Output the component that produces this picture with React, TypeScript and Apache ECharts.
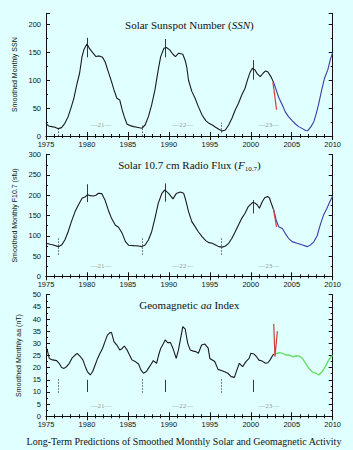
import React, { useEffect, useRef } from 'react';
import * as echarts from 'echarts';

// ---------- data ----------
const ssnObserved: [number, number][] = [
  [1975.0, 22.7], [1975.3, 18], [1975.7, 16.8], [1976.1, 15.6], [1976.5, 13.2], [1976.9, 15],
  [1977.3, 22.7], [1977.7, 34.7], [1978.1, 52.7], [1978.4, 67.6], [1978.75, 91.6], [1979.1, 112.5],
  [1979.4, 142.4], [1979.65, 155.6], [1980.0, 165], [1980.3, 157], [1980.7, 149.6], [1981.1, 142.4],
  [1981.5, 143.6], [1981.9, 141], [1982.2, 133.5], [1982.6, 115.5], [1983.0, 97.5], [1983.3, 82.6],
  [1983.65, 67.6], [1984.0, 64.6], [1984.3, 46.7], [1984.55, 34.7], [1984.9, 21], [1985.3, 18.6],
  [1985.7, 16.8], [1986.1, 15.6], [1986.7, 13.8], [1987.1, 19.7], [1987.5, 34.7], [1987.9, 55.7],
  [1988.3, 82.6], [1988.7, 118.5], [1989.0, 142.4], [1989.4, 157.4], [1989.7, 158.6], [1990.1, 154.4],
  [1990.5, 146.6], [1990.8, 142.4], [1991.2, 148.4], [1991.7, 146.6], [1992.0, 135], [1992.2, 122],
  [1992.4, 100], [1992.8, 80], [1993.2, 67.6], [1993.6, 52.7], [1994.05, 37.7], [1994.5, 27.5],
  [1994.9, 22.7], [1995.3, 19.7], [1995.7, 15.6], [1996.1, 12], [1996.5, 9], [1996.9, 10.8],
  [1997.3, 19.7], [1997.7, 31.7], [1998.1, 46.7], [1998.5, 58.6], [1998.9, 73.6], [1999.3, 85.6],
  [1999.6, 100.5], [1999.9, 113.7], [2000.2, 121.5], [2000.5, 118.5], [2000.8, 111.3], [2001.15, 106.5],
  [2001.5, 112.5], [2001.8, 116.7], [2002.1, 114.9], [2002.45, 106.5], [2002.8, 95.7],
];
const ssnPredicted: [number, number][] = [
  [2002.8, 95.7], [2003.1, 82.6], [2003.4, 69.4], [2003.85, 55.7], [2004.2, 43.7], [2004.6, 34.7],
  [2005.05, 27.5], [2005.45, 21.5], [2005.85, 16.8], [2006.3, 13.2], [2006.7, 10], [2006.95, 9.5],
  [2007.35, 16.8], [2007.7, 25.7], [2008.0, 40.7], [2008.3, 58.6], [2008.7, 85.6], [2009.0, 103.5],
  [2009.4, 118.5], [2009.7, 136.4], [2010.0, 150],
];
const ssnEarlyPrediction: [number, number][] = [[2002.7, 97], [2003.15, 47]];

const f107Observed: [number, number][] = [
  [1975.0, 81.4], [1975.5, 79], [1975.9, 77.3], [1976.5, 73.2], [1976.9, 77], [1977.3, 89.6],
  [1977.7, 110], [1978.1, 134.9], [1978.55, 159.6], [1978.95, 176], [1979.4, 192.5], [1979.8, 196],
  [1980.05, 201], [1980.4, 199], [1980.8, 198], [1981.1, 200], [1981.4, 205], [1981.8, 204],
  [1982.2, 188.4], [1982.6, 163.7], [1983.0, 143], [1983.45, 126.7], [1983.85, 121], [1984.3, 106],
  [1984.7, 85.5], [1985.1, 76.5], [1985.7, 75.6], [1986.3, 74.8], [1986.7, 73.2], [1987.1, 77.3],
  [1987.5, 89.6], [1987.9, 110], [1988.3, 143], [1988.7, 180], [1989.15, 204.8], [1989.5, 213],
  [1990.0, 204], [1990.5, 191], [1990.9, 204], [1991.4, 208], [1991.8, 205], [1992.0, 192],
  [1992.2, 176], [1992.4, 159.6], [1992.8, 134.9], [1993.2, 122.5], [1993.6, 110], [1994.05, 97.9],
  [1994.5, 88], [1994.9, 83], [1995.3, 81.4], [1995.7, 77.3], [1996.1, 73.2], [1996.5, 72],
  [1996.9, 74.8], [1997.3, 81.4], [1997.7, 93.7], [1998.1, 110], [1998.5, 126.7], [1998.9, 143],
  [1999.3, 155.5], [1999.7, 172], [2000.2, 182], [2000.5, 181], [2000.8, 176], [2001.05, 167.9],
  [2001.4, 184], [2001.7, 194], [2002.05, 197], [2002.3, 192.5], [2002.5, 180], [2002.8, 163.7],
];
const f107Predicted: [number, number][] = [
  [2002.8, 163.7], [2003.1, 139], [2003.4, 122.5], [2003.85, 118], [2004.2, 106], [2004.6, 93.7],
  [2005.05, 85.5], [2005.65, 81.4], [2006.3, 77.3], [2006.9, 73.2], [2007.3, 77.3], [2007.7, 85],
  [2008.1, 100], [2008.5, 128], [2008.9, 152], [2009.3, 168], [2009.65, 184], [2010.0, 198],
];
const f107EarlyPrediction: [number, number][] = [[2002.75, 168], [2003.15, 122]];

const aaObserved: [number, number][] = [
  [1975.0, 28.6], [1975.15, 27.3], [1975.4, 23.8], [1975.8, 23.2], [1976.3, 22.9], [1976.6, 21.8],
  [1976.9, 20.1], [1977.2, 19.7], [1977.5, 20.4], [1977.85, 21.8], [1978.15, 23.8], [1978.55, 25.2],
  [1978.8, 25.9], [1979.2, 24.5], [1979.5, 23.2], [1979.8, 20.4], [1980.05, 18.4], [1980.4, 17],
  [1980.7, 18.4], [1981.0, 21.1], [1981.3, 23.8], [1981.6, 25.9], [1981.9, 27.9], [1982.2, 30.7],
  [1982.5, 33.4], [1982.8, 34.4], [1983.0, 34.4], [1983.3, 30.7], [1983.65, 29.3], [1984.0, 27.3],
  [1984.3, 27.9], [1984.55, 28.9], [1984.9, 27.3], [1985.2, 25.2], [1985.5, 23.2], [1985.9, 22.5],
  [1986.3, 21.5], [1986.6, 19], [1986.9, 17.7], [1987.25, 18.4], [1987.5, 19.7], [1987.85, 21.5],
  [1988.1, 22.9], [1988.5, 21.8], [1988.75, 25.2], [1989.0, 27.9], [1989.35, 30], [1989.55, 31.4],
  [1989.85, 30.3], [1990.2, 30.3], [1990.5, 27.9], [1990.9, 23.8], [1991.15, 27], [1991.4, 31.4],
  [1991.7, 36.9], [1992.0, 35.8], [1992.3, 30], [1992.6, 27.3], [1993.0, 26.8], [1993.3, 26.6],
  [1993.6, 25.9], [1994.0, 29.3], [1994.4, 29.7], [1994.8, 28], [1995.0, 23.8], [1995.6, 22.5],
  [1996.0, 19.3], [1996.4, 18.8], [1996.8, 18.3], [1997.2, 17.7], [1997.6, 16.3], [1998.0, 16],
  [1998.3, 19], [1998.6, 21.8], [1999.0, 20.4], [1999.4, 22.5], [1999.8, 23.8], [2000.0, 25.9],
  [2000.4, 25.6], [2000.7, 24.5], [2001.0, 23.1], [2001.4, 22.7], [2001.8, 21.8], [2002.1, 22],
  [2002.4, 23.4], [2002.7, 25.2], [2002.85, 25.5],
];
const aaPredicted: [number, number][] = [
  [2002.85, 25.5], [2003.5, 26.2], [2003.9, 25.9], [2004.3, 25.2], [2004.7, 25.2], [2005.1, 24.5],
  [2005.5, 24.8], [2005.9, 24.8], [2006.3, 23.8], [2006.7, 21.8], [2007.1, 19.7], [2007.5, 18.3],
  [2008.1, 17.4], [2008.3, 17], [2008.7, 18.3], [2009.1, 20.4], [2009.5, 23.1], [2009.8, 24.5],
  [2010.0, 25],
];
const aaEarlyPrediction: [number, number][] = [[2002.8, 38], [2002.95, 24.5], [2003.25, 35]];

const cycleNumbers = ['21', '22', '23'];
const cycleLabelYears = [1981.7, 1991.7, 2002.2];
const cycleMinYears = [1976.5, 1986.8, 1996.4];
const cycleMaxYears = [1980.0, 1989.6, 2000.3];

const ssnMinRanges = [[0, 16], [0, 20], [6, 24]];
const ssnMaxRanges = [[141, 176], [141, 174], [101, 136]];
const f107MinRanges = [[53, 94], [53, 94], [53, 94]];
const f107MaxRanges = [[183, 227], [184, 229], [155, 188]];
const aaMinRanges = [[9.7, 15.2], [9.7, 15.2], [9.7, 15.2]];
const aaMaxRanges = [[10, 15], [10, 15], [10, 15]];
const cycleLabelValues = [20, 25, 4.2];

const panelYRanges = [[0, 220, 50], [0, 300, 50], [0, 50, 5]];
const yAxisNames = ['Smoothed Monthly SSN', 'Smoothed Monthly F10.7 (sfu)', 'Smoothed Monthly aa (nT)'];

// ---------- styling ----------
const BG = '#e0ffff';
const SANS = 'Liberation Sans, Arial, sans-serif';
const SERIF = 'Liberation Serif, Times New Roman, serif';
const PLOT_LEFT = 46;
const PLOT_WIDTH = 286.7;
const grids = [
  { left: PLOT_LEFT, top: 13.3, width: PLOT_WIDTH, height: 122.7 },
  { left: PLOT_LEFT, top: 154.7, width: PLOT_WIDTH, height: 121.6 },
  { left: PLOT_LEFT, top: 294.7, width: PLOT_WIDTH, height: 121.6 },
];

function buildOption() {
  const axisLine = { show: true, lineStyle: { color: '#111', width: 1 } };
  const xAxes: any[] = [];
  const yAxes: any[] = [];
  grids.forEach((_, i) => {
    xAxes.push({
      type: 'value', gridIndex: i, min: 1975, max: 2010, interval: 5, position: 'bottom',
      axisLine, splitLine: { show: false },
      axisTick: { show: true, inside: true, length: 4, lineStyle: { color: '#111' } },
      minorTick: { show: true, splitNumber: 5, length: 2, lineStyle: { color: '#111' } },
      axisLabel: { show: true, margin: 4, fontSize: 7.5, fontFamily: SANS, color: '#111', formatter: (v: number) => String(v) },
    });
  });
  grids.forEach((_, i) => {
    xAxes.push({
      type: 'value', gridIndex: i, min: 1975, max: 2010, interval: 5, position: 'top',
      axisLine, splitLine: { show: false },
      axisTick: { show: true, inside: true, length: 4, lineStyle: { color: '#111' } },
      minorTick: { show: true, splitNumber: 5, length: 2, lineStyle: { color: '#111' } },
      axisLabel: { show: false },
    });
  });
  grids.forEach((_, i) => {
    const [mn, mx, iv] = panelYRanges[i];
    yAxes.push({
      type: 'value', gridIndex: i, min: mn, max: mx, interval: iv, position: 'left',
      name: yAxisNames[i], nameLocation: 'middle', nameGap: 22, nameRotate: 90,
      nameTextStyle: { fontSize: 7, fontFamily: SANS, color: '#111' },
      axisLine, splitLine: { show: false },
      axisTick: { show: true, inside: true, length: 4, lineStyle: { color: '#111' } },
      minorTick: { show: true, splitNumber: 2, length: 2, lineStyle: { color: '#111' } },
      axisLabel: {
        show: true, margin: 5, fontSize: 7.5, fontFamily: SANS, color: '#111',
        formatter: (v: number) => (v % iv === 0 ? String(v) : ''),
      },
    });
  });
  grids.forEach((_, i) => {
    const [mn, mx, iv] = panelYRanges[i];
    yAxes.push({
      type: 'value', gridIndex: i, min: mn, max: mx, interval: iv, position: 'right',
      axisLine, splitLine: { show: false },
      axisTick: { show: true, inside: true, length: 4, lineStyle: { color: '#111' } },
      minorTick: { show: true, splitNumber: 2, length: 2, lineStyle: { color: '#111' } },
      axisLabel: { show: false },
    });
  });

  const observed = [ssnObserved, f107Observed, aaObserved];
  const predicted = [ssnPredicted, f107Predicted, aaPredicted];
  const early = [ssnEarlyPrediction, f107EarlyPrediction, aaEarlyPrediction];
  const minRanges = [ssnMinRanges, f107MinRanges, aaMinRanges];
  const maxRanges = [ssnMaxRanges, f107MaxRanges, aaMaxRanges];
  const predColors = ['#3a3aa8', '#3a3aa8', '#66dd66'];

  const series: any[] = [];
  grids.forEach((_, i) => {
    const markData: any[] = [];
    cycleMinYears.forEach((x, k) => {
      markData.push([
        { coord: [x, minRanges[i][k][0]], lineStyle: { type: [1.5, 1.5], color: '#333', width: 0.8 } },
        { coord: [x, minRanges[i][k][1]] },
      ]);
    });
    cycleMaxYears.forEach((x, k) => {
      markData.push([
        { coord: [x, maxRanges[i][k][0]], lineStyle: { type: 'solid', color: '#222', width: 0.9 } },
        { coord: [x, maxRanges[i][k][1]] },
      ]);
    });
    series.push({
      type: 'line', xAxisIndex: i, yAxisIndex: i, data: observed[i], showSymbol: false, symbol: 'none',
      lineStyle: { color: '#1a1a1a', width: 1.1 }, z: 3,
      markLine: { silent: true, symbol: ['none', 'none'], label: { show: false }, animation: false, data: markData },
    });
    series.push({
      type: 'line', xAxisIndex: i, yAxisIndex: i, data: predicted[i], showSymbol: false, symbol: 'none',
      lineStyle: { color: predColors[i], width: i === 2 ? 1.4 : 1.1 }, z: 3,
    });
    series.push({
      type: 'line', xAxisIndex: i, yAxisIndex: i, data: early[i], showSymbol: false, symbol: 'none',
      lineStyle: { color: '#d83a3a', width: 1.2 }, z: 4,
    });
    series.push({
      type: 'scatter', xAxisIndex: i, yAxisIndex: i, symbolSize: 0, silent: true,
      data: cycleLabelYears.map((x, k) => ({ value: [x, cycleLabelValues[i]], name: cycleNumbers[k] })),
      label: {
        show: true, position: 'inside', formatter: '\u2014{b}\u2014',
        fontFamily: SERIF, fontSize: 7, color: '#7a7a7a',
      },
    });
  });

  const cx = PLOT_LEFT + PLOT_WIDTH / 2;
  const graphic: any[] = [
    {
      type: 'text', x: cx, y: 25,
      style: {
        text: 'Solar Sunspot Number ({i|SSN})', fontFamily: SERIF, fontSize: 11, fill: '#111',
        align: 'center', verticalAlign: 'middle',
        rich: { i: { fontStyle: 'italic', fontFamily: SERIF, fontSize: 11, fill: '#111' } },
      },
    },
    {
      type: 'text', x: cx, y: 165,
      style: {
        text: 'Solar 10.7 cm Radio Flux ({i|F}{sub|10.7})', fontFamily: SERIF, fontSize: 11, fill: '#111',
        align: 'center', verticalAlign: 'middle', lineHeight: 14,
        rich: {
          i: { fontStyle: 'italic', fontFamily: SERIF, fontSize: 11, fill: '#111', lineHeight: 14 },
          sub: { fontFamily: SERIF, fontSize: 7, fill: '#111', lineHeight: 8, verticalAlign: 'bottom' },
        },
      },
    },
    {
      type: 'text', x: cx, y: 305,
      style: {
        text: 'Geomagnetic {i|aa} Index', fontFamily: SERIF, fontSize: 11, fill: '#111',
        align: 'center', verticalAlign: 'middle',
        rich: { i: { fontStyle: 'italic', fontFamily: SERIF, fontSize: 11, fill: '#111' } },
      },
    },
    {
      type: 'text', x: 184, y: 441,
      style: {
        text: 'Long-Term Predictions of Smoothed Monthly Solar and Geomagnetic Activity',
        fontFamily: SERIF, fontSize: 10, fill: '#111', align: 'center', verticalAlign: 'middle',
      },
    },
  ];

  return {
    animation: false,
    backgroundColor: BG,
    grid: grids,
    xAxis: xAxes,
    yAxis: yAxes,
    series,
    graphic,
  };
}

export default function App() {
  const ref = useRef<HTMLDivElement>(null);
  useEffect(() => {
    if (!ref.current) return;
    const chart = echarts.init(ref.current, undefined, { renderer: 'svg' });
    chart.setOption(buildOption());
    return () => chart.dispose();
  }, []);
  return (
    <div style={{ position: 'fixed', left: 0, top: 0, width: 353, height: 450, background: BG }}>
      <div ref={ref} style={{ width: 353, height: 450 }} />
    </div>
  );
}
